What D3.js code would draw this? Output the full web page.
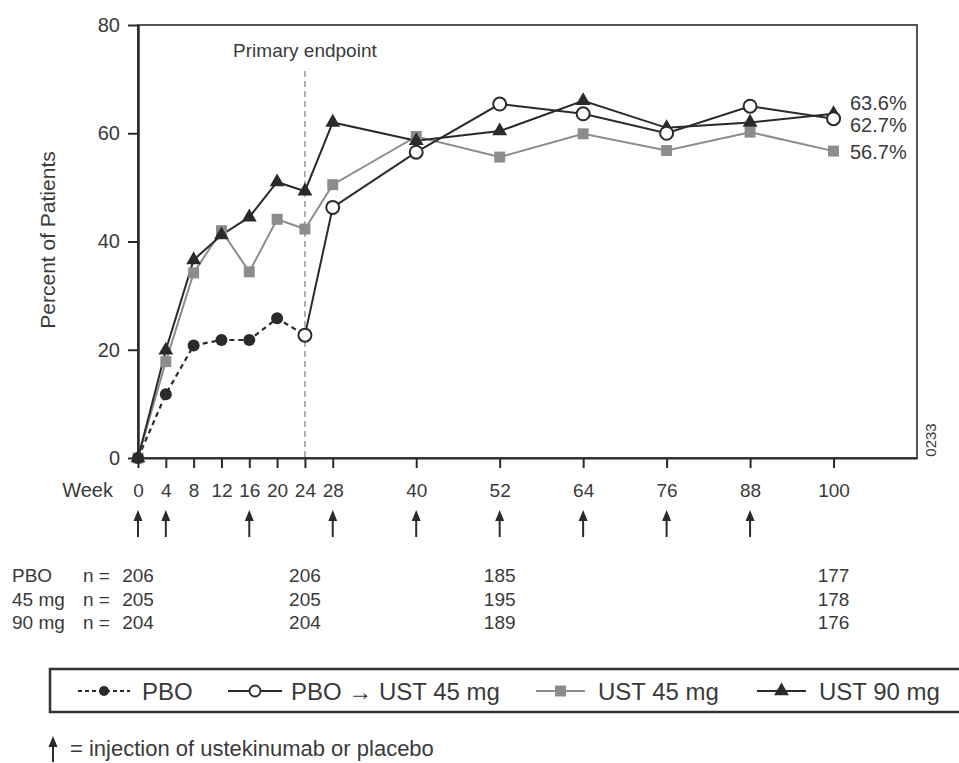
<!DOCTYPE html>
<html>
<head>
<meta charset="utf-8">
<script src="https://cdn.jsdelivr.net/npm/d3@7"></script>
<style>
  body { margin: 0; background: #fff; }
  svg { display: block; font-family: "Liberation Sans", Arial, sans-serif; }
</style>
</head>
<body>
<svg id="chart" width="959" height="763"></svg>
<script>
// data
var weekTicks = [0, 4, 8, 12, 16, 20, 24, 28, 40, 52, 64, 76, 88, 100];
var yTicks = [0, 20, 40, 60, 80];
var injectionWeeks = [0, 4, 16, 28, 40, 52, 64, 76, 88];

var pboWeeks = [0, 4, 8, 12, 16, 20, 24];
var pboValues = [0, 11.8, 20.8, 21.8, 21.8, 25.8, 22.7];

var pboUstWeeks = [24, 28, 40, 52, 64, 76, 88, 100];
var pboUstValues = [22.7, 46.3, 56.5, 65.4, 63.6, 60.0, 65.0, 62.7];

var ustWeeks = [0, 4, 8, 12, 16, 20, 24, 28, 40, 52, 64, 76, 88, 100];
var ust45Values = [0, 17.8, 34.2, 42.0, 34.4, 44.1, 42.3, 50.5, 59.4, 55.6, 59.9, 56.8, 60.2, 56.7];
var ust90Values = [0, 19.9, 36.6, 41.2, 44.5, 51.0, 49.3, 62.0, 58.6, 60.4, 66.0, 61.0, 62.0, 63.6];

var endLabels = ['63.6%', '62.7%', '56.7%'];
var endLabelValues = [65.6, 61.5, 56.5];

var nWeeks = [0, 24, 52, 100];
var nGroups = ['PBO', '45 mg', '90 mg'];
var nPbo = [206, 206, 185, 177];
var n45 = [205, 205, 195, 178];
var n90 = [204, 204, 189, 176];

var legendLabels = ['PBO', 'PBO \u2192 UST 45 mg', 'UST 45 mg', 'UST 90 mg'];

var ink = '#2a2a2a', gray = '#8c8c8c', textCol = '#3a3a3a';

var svg = d3.select('#chart');
var x = d3.scaleLinear().domain([0, 112]).range([138, 917]);
var y = d3.scaleLinear().domain([0, 80]).range([458, 25]);

//Plot frame
svg.append('rect')
	.attr('x', x(0)).attr('y', y(80))
	.attr('width', x(112) - x(0)).attr('height', y(0) - y(80))
	.attr('fill', 'none').attr('stroke', '#555').attr('stroke-width', 2);

//Y axis
var yAxis = svg.append('g')
	.attr('transform', 'translate(' + x(0) + ',0)')
	.call(d3.axisLeft(y).tickValues(yTicks).tickSize(10).tickPadding(8).tickSizeOuter(0));
yAxis.select('.domain').attr('stroke', ink).attr('stroke-width', 2.5);
yAxis.selectAll('.tick line').attr('stroke', ink).attr('stroke-width', 2);
yAxis.selectAll('.tick text').attr('font-size', 20).attr('fill', textCol);

//X axis
var xAxis = svg.append('g')
	.attr('transform', 'translate(0,' + y(0) + ')')
	.call(d3.axisBottom(x).tickValues(weekTicks).tickSize(10).tickPadding(16).tickSizeOuter(0));
xAxis.select('.domain').attr('stroke', ink).attr('stroke-width', 2);
xAxis.selectAll('.tick line').attr('stroke', ink).attr('stroke-width', 2);
xAxis.selectAll('.tick text').attr('font-size', 19).attr('fill', textCol);

svg.append('text')
	.attr('x', 113).attr('y', 497)
	.attr('text-anchor', 'end').attr('font-size', 20).attr('fill', textCol)
	.text('Week');

svg.append('text')
	.attr('transform', 'translate(55,240) rotate(-90)')
	.attr('text-anchor', 'middle').attr('font-size', 21).attr('fill', textCol)
	.text('Percent of Patients');

svg.append('text')
	.attr('transform', 'translate(936,440) rotate(-90)')
	.attr('text-anchor', 'middle').attr('font-size', 15).attr('fill', textCol)
	.text('0233');

//Primary endpoint
svg.append('line')
	.attr('x1', x(24)).attr('x2', x(24))
	.attr('y1', y(71.5)).attr('y2', y(0))
	.attr('stroke', '#999').attr('stroke-width', 1.5).attr('stroke-dasharray', '6,4');
svg.append('text')
	.attr('x', x(24)).attr('y', 57)
	.attr('text-anchor', 'middle').attr('font-size', 19).attr('fill', textCol)
	.text('Primary endpoint');

//Series lines
function drawLine(weeks, values, color, dash, width) {
	var pts = weeks.map(function(w, i) { return [x(w), y(values[i])]; });
	svg.append('path')
		.attr('d', d3.line()(pts))
		.attr('fill', 'none').attr('stroke', color)
		.attr('stroke-width', width).attr('stroke-dasharray', dash);
	return pts;
}

var ptsPbo = drawLine(pboWeeks, pboValues, ink, '5,4', 2.2);
var pts45 = drawLine(ustWeeks, ust45Values, gray, null, 2);
var pts90 = drawLine(ustWeeks, ust90Values, ink, null, 2);
var ptsPboUst = drawLine(pboUstWeeks, pboUstValues, ink, null, 2);

var tri = d3.symbol().type(d3.symbolTriangle).size(95);
var sq = d3.symbol().type(d3.symbolSquare).size(120);

svg.append('g').selectAll('path').data(pts45).join('path')
	.attr('d', sq).attr('transform', function(d) { return 'translate(' + d + ')'; })
	.attr('fill', gray);

svg.append('g').selectAll('path').data(pts90).join('path')
	.attr('d', tri).attr('transform', function(d) { return 'translate(' + d + ')'; })
	.attr('fill', ink);

svg.append('g').selectAll('circle').data(ptsPbo.slice(0, -1)).join('circle')
	.attr('cx', function(d) { return d[0]; }).attr('cy', function(d) { return d[1]; })
	.attr('r', 6).attr('fill', ink);

svg.append('g').selectAll('circle').data(ptsPboUst).join('circle')
	.attr('cx', function(d) { return d[0]; }).attr('cy', function(d) { return d[1]; })
	.attr('r', 6.5).attr('fill', '#fff').attr('stroke', ink).attr('stroke-width', 2);

//End labels
svg.append('g').selectAll('text').data(endLabels).join('text')
	.attr('x', 850).attr('y', function(d, i) { return y(endLabelValues[i]) + 7; })
	.attr('font-size', 20).attr('fill', textCol)
	.text(function(d) { return d; });

//Injection arrows
var arrows = svg.append('g').selectAll('g').data(injectionWeeks).join('g')
	.attr('transform', function(d) { return 'translate(' + x(d) + ',0)'; });
arrows.append('line')
	.attr('x1', 0).attr('x2', 0).attr('y1', 518).attr('y2', 537)
	.attr('stroke', ink).attr('stroke-width', 2);
arrows.append('path')
	.attr('d', 'M0,510 L-4.5,521 L4.5,521 Z')
	.attr('fill', ink);

//n table
var nRows = [nPbo, n45, n90];
var rowY = [582, 606, 629];
nGroups.forEach(function(g, r) {
	svg.append('text').attr('x', 12).attr('y', rowY[r])
		.attr('font-size', 19).attr('fill', textCol).text(g);
	svg.append('text').attr('x', 83).attr('y', rowY[r])
		.attr('font-size', 19).attr('fill', textCol).text('n =');
	svg.append('g').selectAll('text').data(nRows[r]).join('text')
		.attr('x', function(d, i) { return x(nWeeks[i]); }).attr('y', rowY[r])
		.attr('text-anchor', 'middle').attr('font-size', 19).attr('fill', textCol)
		.text(function(d) { return d; });
});

//Legend
var legend = svg.append('g');
legend.append('rect')
	.attr('x', 50).attr('y', 669).attr('width', 930).attr('height', 43)
	.attr('fill', 'none').attr('stroke', '#333').attr('stroke-width', 2.5);
var legendItems = [
	{ x0: 78, x1: 130, tx: 142, color: ink, dash: '4,3', mark: 'dot' },
	{ x0: 228, x1: 282, tx: 291, color: ink, dash: null, mark: 'open' },
	{ x0: 536, x1: 585, tx: 598, color: gray, dash: null, mark: 'square' },
	{ x0: 757, x1: 806, tx: 819, color: ink, dash: null, mark: 'tri' }
];
legendItems.forEach(function(it, i) {
	var cy = 691, cx = (it.x0 + it.x1) / 2;
	legend.append('line')
		.attr('x1', it.x0).attr('x2', it.x1).attr('y1', cy).attr('y2', cy)
		.attr('stroke', it.color).attr('stroke-width', 2).attr('stroke-dasharray', it.dash);
	if (it.mark === 'dot') {
		legend.append('circle').attr('cx', cx).attr('cy', cy).attr('r', 5).attr('fill', ink);
	} else if (it.mark === 'open') {
		legend.append('circle').attr('cx', cx).attr('cy', cy).attr('r', 5.5)
			.attr('fill', '#fff').attr('stroke', ink).attr('stroke-width', 1.8);
	} else if (it.mark === 'square') {
		legend.append('path').attr('d', sq).attr('transform', 'translate(' + cx + ',' + cy + ')').attr('fill', gray);
	} else {
		legend.append('path').attr('d', tri).attr('transform', 'translate(' + cx + ',' + cy + ')').attr('fill', ink);
	}
	legend.append('text').attr('x', it.tx).attr('y', cy + 9)
		.attr('font-size', 24).attr('fill', textCol).text(legendLabels[i]);
});

//Footnote
svg.append('line')
	.attr('x1', 53).attr('x2', 53).attr('y1', 745).attr('y2', 762)
	.attr('stroke', ink).attr('stroke-width', 2);
svg.append('path').attr('d', 'M53,736 L48.5,747 L57.5,747 Z').attr('fill', ink);
svg.append('text').attr('x', 70).attr('y', 756)
	.attr('font-size', 22).attr('fill', textCol)
	.text('= injection of ustekinumab or placebo');
</script>
</body>
</html>
